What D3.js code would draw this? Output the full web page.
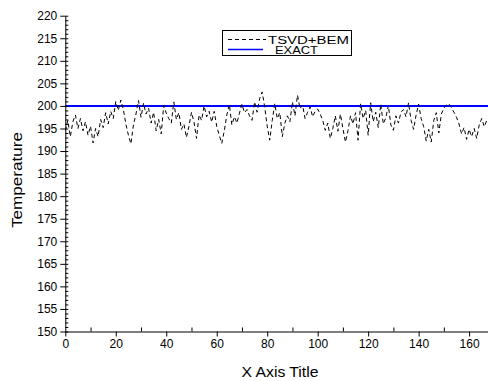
<!DOCTYPE html>
<html>
<head>
<meta charset="utf-8">
<script src="https://cdn.jsdelivr.net/npm/d3@7"></script>
<style>
  body { margin: 0; background: #fff; }
  text { font-family: Arial, "Liberation Sans", sans-serif; fill: #000; }
</style>
</head>
<body>
<div id="chart"></div>
<script>
// values, one per x step
var tsvdBem = [
  194.5, 196.8, 193.2, 196.5, 198, 195, 197.2, 194.5, 196.5, 193.5,
  195.5, 191.8, 195, 193.2, 197, 195.2, 198.5, 196, 198.8, 197.2,
  201, 199, 201.3, 199.2, 196, 193.5, 191.6, 195.8, 198.2, 201.2,
  197.5, 200.6, 198.2, 199.5, 196.2, 198.6, 194.5, 197, 193.8, 200.1,
  198.4, 197.2, 196.2, 200.9, 197, 198.5, 194.8, 196, 193, 195.5,
  198.6, 196.4, 192.8, 198, 196.8, 200, 197.6, 198.8, 196.4, 198.8,
  195.5, 193.5, 191.7, 194.5, 198, 200.3, 195.8, 197.6, 196.2, 198.4,
  200.4, 198.5, 199.2, 197.8, 196.8, 200.9, 198.6, 201.6, 203.1, 199.8,
  195.5, 192.4, 196.8, 200.5, 197.2, 198.5, 193.2, 196.2, 197.8, 196.5,
  200.9, 197.8, 202.4, 199.4, 200.2, 197.2, 198.6, 199.8, 197.6, 198.8,
  199.3, 198.2, 196.8, 194.6, 196.2, 192.8, 195, 197.8, 194.4, 198.2,
  195, 192, 194.5, 197.8, 196, 198.5, 192.4, 200.5, 197.2, 199,
  193.5, 200.7, 196.5, 198.6, 195.2, 200.4, 196, 197.4, 200.1, 195.8,
  194.6, 197.8, 196.2, 198.6, 199.2, 197.6, 200.7, 196.8, 194.8, 198,
  200.4, 197.2, 195.4, 192.2, 194.8, 192, 196.8, 198.5, 194, 198.2,
  199.5, 200.2, 200.5, 199.6, 198.6, 197.5, 196, 193.8, 195.2, 192.6,
  194.8, 193.2, 195, 192.8, 195.8, 197.2, 195.4, 196.8
];
var exactValue = 200;
var xTicks = [0, 20, 40, 60, 80, 100, 120, 140, 160];
var yTicks = [150, 155, 160, 165, 170, 175, 180, 185, 190, 195, 200, 205, 210, 215, 220];
var seriesNames = ["TSVD+BEM", "EXACT"];

var W = 488, H = 381;
var svg = d3.select("#chart").append("svg")
  .attr("width", W).attr("height", H);

var x = d3.scaleLinear().domain([0, 168]).range([65.3, 489.3]);
var y = d3.scaleLinear().domain([150, 220]).range([331.5, 15.7]);

svg.append("clipPath").attr("id", "plotclip")
  .append("rect").attr("x", 65).attr("y", 0).attr("width", W - 65).attr("height", 332);

var plot = svg.append("g").attr("clip-path", "url(#plotclip)");

// exact line
plot.append("line")
  .attr("x1", x(0)).attr("x2", x(168))
  .attr("y1", y(exactValue)).attr("y2", y(exactValue))
  .attr("stroke", "#0000ff").attr("stroke-width", 2);

var line = d3.line()
  .x(function (d, i) { return x(i); })
  .y(function (d) { return y(d); });

plot.append("path")
  .datum(tsvdBem)
  .attr("d", line)
  .attr("fill", "none")
  .attr("stroke", "#000")
  .attr("stroke-width", 1)
  .attr("stroke-dasharray", "4,3");

// y axis: minor ticks inward, major outward
var yAxisG = svg.append("g").attr("transform", "translate(" + x(0) + ",0)");
yAxisG.call(d3.axisRight(y).tickValues(d3.range(150, 221, 1)).tickSize(3).tickFormat(""));
yAxisG.call(function (g) { g.select(".domain").remove(); });
var yMajor = svg.append("g").attr("transform", "translate(" + x(0) + ",0)")
  .call(d3.axisLeft(y).tickValues(yTicks).tickSize(5).tickSizeOuter(0).tickPadding(3));
yMajor.selectAll("text").style("font-size", "12px").attr("font-family", "Arial, 'Liberation Sans', sans-serif");

// x axis: minor ticks inward, major outward
var xMinor = svg.append("g").attr("transform", "translate(0," + y(150) + ")")
  .call(d3.axisTop(x).tickValues(d3.range(10, 170, 20)).tickSize(4).tickFormat(""));
xMinor.select(".domain").remove();
var xMajor = svg.append("g").attr("transform", "translate(0," + y(150) + ")")
  .call(d3.axisBottom(x).tickValues(xTicks).tickSize(5).tickSizeOuter(0).tickPadding(3));
xMajor.selectAll("text").style("font-size", "12px").attr("font-family", "Arial, 'Liberation Sans', sans-serif");
svg.selectAll(".domain").attr("stroke-width", 1);
svg.selectAll(".tick line").attr("stroke-width", 1);

// axis titles
svg.append("text")
  .attr("x", 280).attr("y", 377)
  .attr("text-anchor", "middle")
  .attr("textLength", 77).attr("lengthAdjust", "spacingAndGlyphs")
  .style("font-size", "14px")
  .text("X Axis Title");
svg.append("text")
  .attr("transform", "translate(22,180) rotate(-90)")
  .attr("text-anchor", "middle")
  .attr("textLength", 96).attr("lengthAdjust", "spacingAndGlyphs")
  .style("font-size", "14px")
  .text("Temperature");

// legend
var leg = svg.append("g");
leg.append("rect")
  .attr("x", 222.5).attr("y", 30.5).attr("width", 129).attr("height", 25)
  .attr("fill", "#fff").attr("stroke", "#000").attr("stroke-width", 1);
leg.append("line")
  .attr("x1", 228).attr("x2", 266).attr("y1", 39.5).attr("y2", 39.5)
  .attr("stroke", "#000").attr("stroke-dasharray", "4,3");
leg.append("line")
  .attr("x1", 228).attr("x2", 263).attr("y1", 49.5).attr("y2", 49.5)
  .attr("stroke", "#0000ff").attr("stroke-width", 1.5);
leg.append("text")
  .attr("x", 268).attr("y", 43.5)
  .attr("textLength", 81).attr("lengthAdjust", "spacingAndGlyphs")
  .style("font-size", "10px")
  .text(seriesNames[0]);
leg.append("text")
  .attr("x", 275).attr("y", 54.3)
  .attr("textLength", 43).attr("lengthAdjust", "spacingAndGlyphs")
  .style("font-size", "10px")
  .text(seriesNames[1]);
</script>
</body>
</html>
